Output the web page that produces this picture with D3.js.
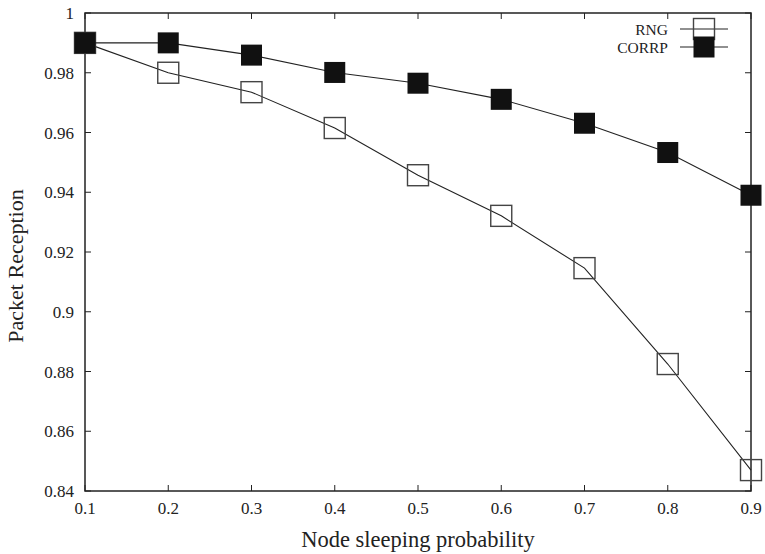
<!DOCTYPE html>
<html><head><meta charset="utf-8">
<script src="https://cdn.jsdelivr.net/npm/d3@7/dist/d3.min.js"></script>
<style>body{margin:0;background:#fff}svg text{font-family:"Liberation Serif","Times New Roman",serif;fill:#222}</style>
</head><body><svg id="c" width="765" height="554"></svg>
<script>
const xValues = [0.1,0.2,0.3,0.4,0.5,0.6,0.7,0.8,0.9];
const rngValues = [0.990,0.980,0.9735,0.9615,0.9457,0.9321,0.9146,0.8825,0.8470];
const corrpValues = [0.990,0.990,0.9859,0.9801,0.9765,0.9711,0.9631,0.9533,0.9390];
const xTicks = [0.1,0.2,0.3,0.4,0.5,0.6,0.7,0.8,0.9];
const yTicks = [0.84,0.86,0.88,0.9,0.92,0.94,0.96,0.98,1];
const seriesNames = ["RNG","CORRP"];

const svg = d3.select("#c");
const L=85,R=751,T=13,B=491;
const x = d3.scaleLinear().domain([0.1,0.9]).range([L,R]);
const y = d3.scaleLinear().domain([0.84,1]).range([B,T]);
const fmt = d => d3.format("")(+d.toFixed(2));

const tl=6;
const g = svg.append("g");
xTicks.forEach(t=>{
  g.append("line").attr("x1",x(t)).attr("x2",x(t)).attr("y1",B).attr("y2",B-tl).attr("stroke","#222").attr("stroke-width",1);
  g.append("line").attr("x1",x(t)).attr("x2",x(t)).attr("y1",T).attr("y2",T+tl).attr("stroke","#222").attr("stroke-width",1);
  g.append("text").attr("x",x(t)).attr("y",B+23).attr("text-anchor","middle").attr("font-size",17).text(fmt(t));
});
yTicks.forEach(t=>{
  g.append("line").attr("x1",L).attr("x2",L+tl).attr("y1",y(t)).attr("y2",y(t)).attr("stroke","#222").attr("stroke-width",1);
  g.append("line").attr("x1",R).attr("x2",R-tl).attr("y1",y(t)).attr("y2",y(t)).attr("stroke","#222").attr("stroke-width",1);
  g.append("text").attr("x",L-11).attr("y",y(t)+6).attr("text-anchor","end").attr("font-size",17).text(fmt(t));
});
svg.append("rect").attr("x",L).attr("y",T).attr("width",R-L).attr("height",B-T).attr("fill","none").attr("stroke","#222").attr("stroke-width",1.5);

svg.append("text").attr("x",(L+R)/2).attr("y",547).attr("text-anchor","middle").attr("font-size",22.5).text("Node sleeping probability");
svg.append("text").attr("transform","translate(23,266) rotate(-90)").attr("text-anchor","middle").attr("font-size",22).text("Packet Reception");

const line = d3.line().x(d=>x(d[0])).y(d=>y(d[1]));
const S=21;
function drawSeries(vals, filled){
  const pts = xValues.map((v,i)=>[v,vals[i]]);
  svg.append("path").datum(pts).attr("d",line).attr("fill","none").attr("stroke","#222").attr("stroke-width",1.1);
  svg.selectAll(null).data(pts).enter().append("rect")
    .attr("x",d=>x(d[0])-S/2).attr("y",d=>y(d[1])-S/2).attr("width",S).attr("height",S)
    .attr("fill",filled?"#111":"none").attr("stroke",filled?"#111":"#444").attr("stroke-width",filled?0:1.4);
}
drawSeries(rngValues,false);
drawSeries(corrpValues,true);

const legY=[29,47];
seriesNames.forEach((n,i)=>{
  svg.append("text").attr("x",668).attr("y",legY[i]+5.5).attr("text-anchor","end").attr("font-size",15.5).text(n);
  svg.append("line").attr("x1",680).attr("x2",728).attr("y1",legY[i]).attr("y2",legY[i]).attr("stroke","#222").attr("stroke-width",1.1);
});
svg.append("rect").attr("x",704-S/2).attr("y",legY[0]-S/2).attr("width",S).attr("height",S).attr("fill","none").attr("stroke","#444").attr("stroke-width",1.4);
svg.append("rect").attr("x",704-S/2).attr("y",legY[1]-S/2).attr("width",S).attr("height",S).attr("fill","#111");
</script></body></html>
